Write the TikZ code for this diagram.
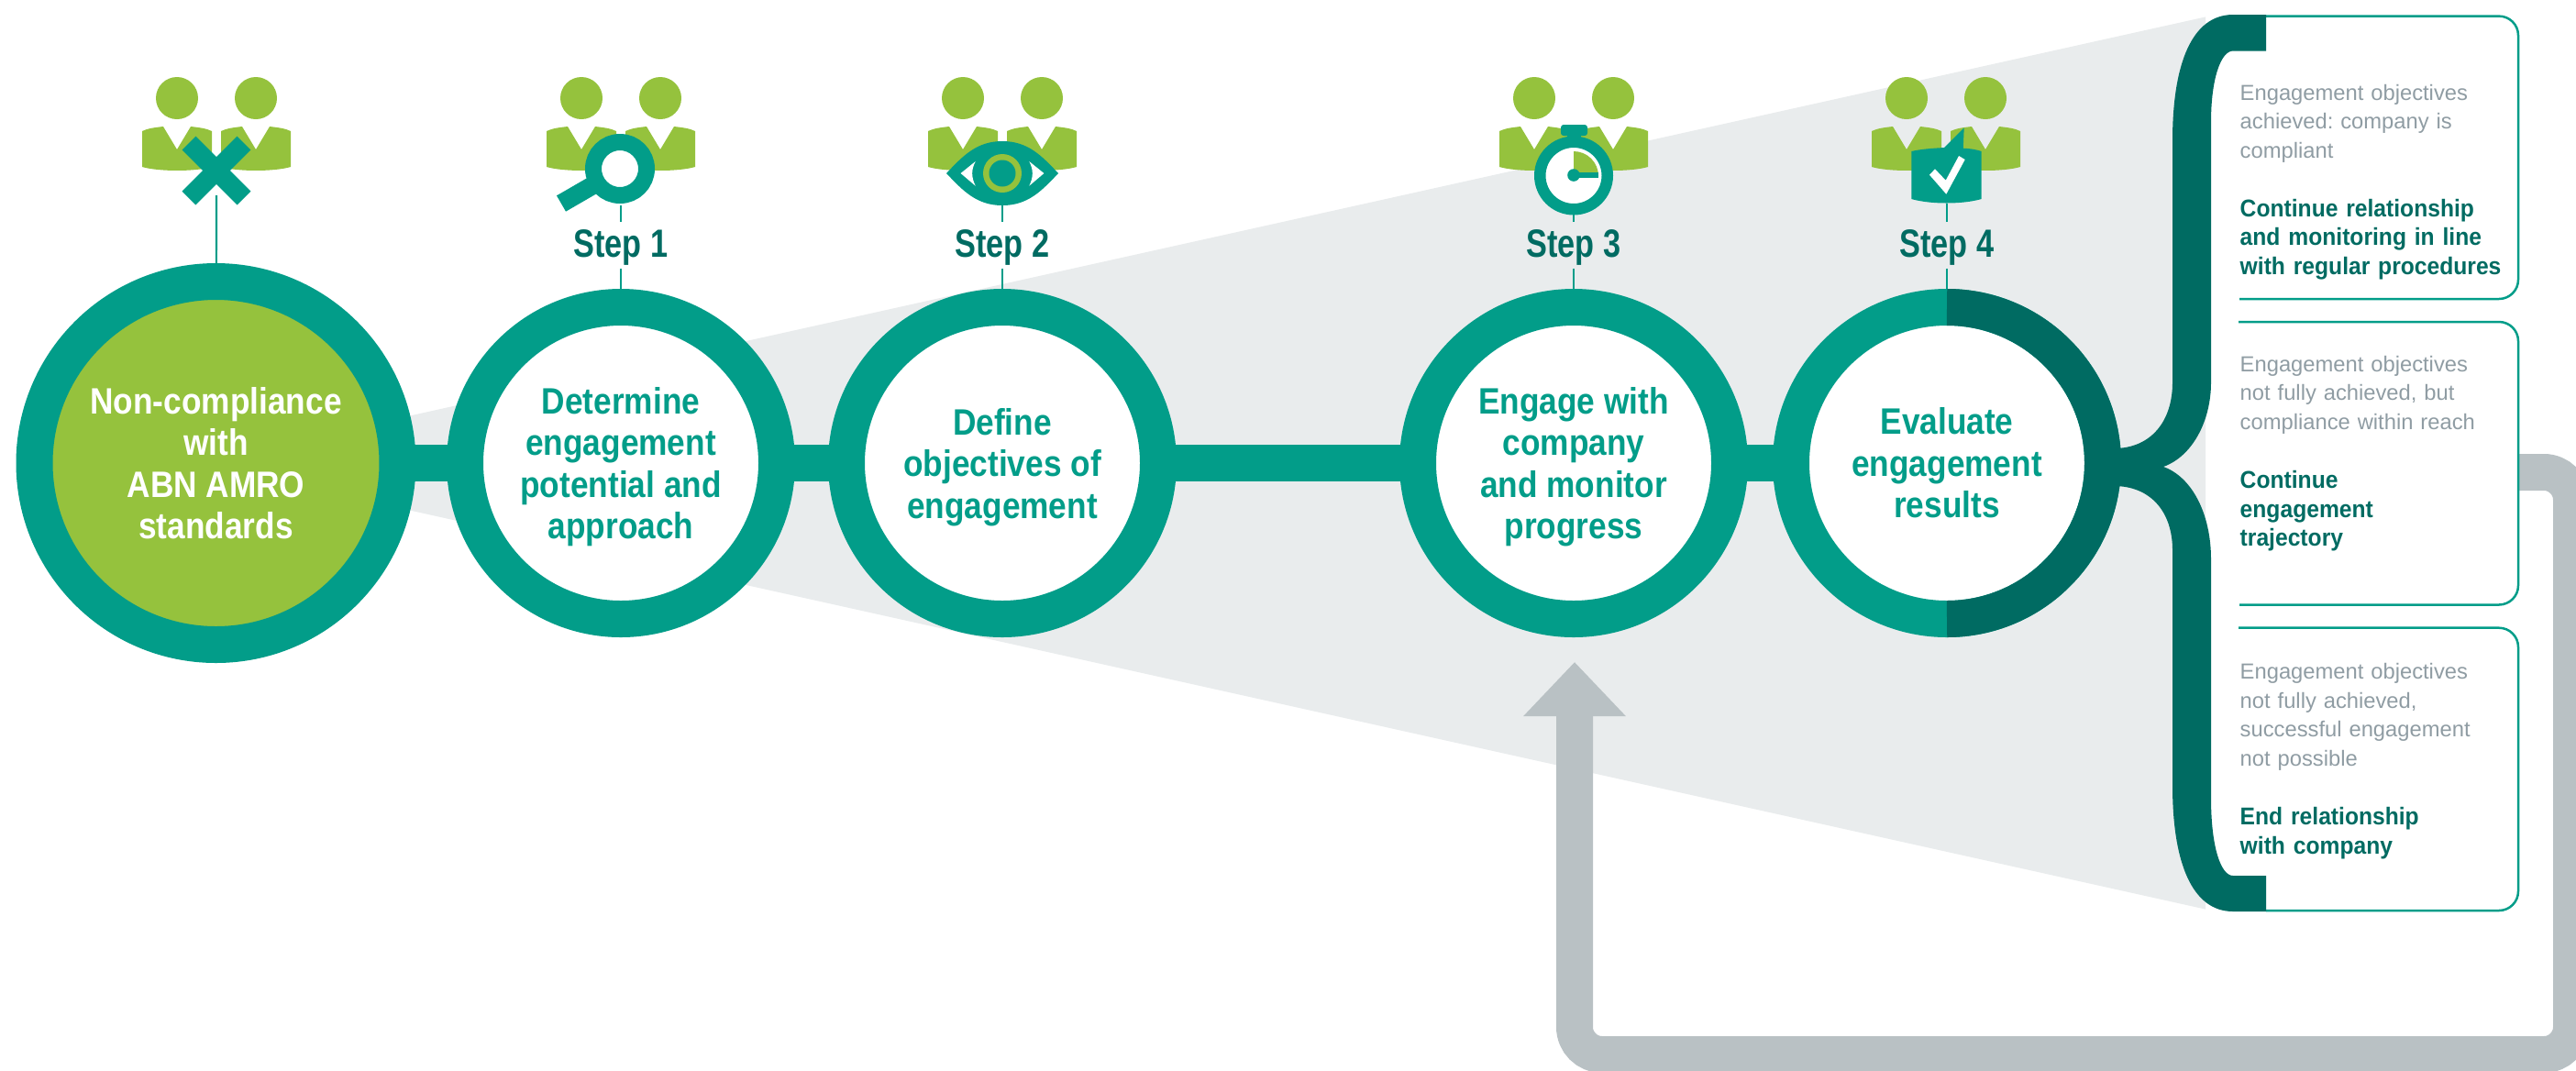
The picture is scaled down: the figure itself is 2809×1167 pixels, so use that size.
\documentclass[tikz,border=0pt]{standalone}
\usepackage{fontspec}
\usetikzlibrary{arrows.meta}
\setmainfont{Liberation Sans}
\newfontfamily\circlefont[FakeStretch=0.88]{Liberation Sans}
\newfontfamily\stepfont[FakeStretch=0.80]{Liberation Sans}
\newfontfamily\sidefont[FakeStretch=0.93]{Liberation Sans}
\newcommand{\topstrut}{\rule{0pt}{0.94em}}
\definecolor{teal}{HTML}{029D89}
\definecolor{deepteal}{HTML}{006B62}
\definecolor{leaf}{HTML}{95C23D}
\definecolor{fan}{HTML}{E9ECED}
\definecolor{loopgrey}{HTML}{B9C1C4}
\definecolor{textgrey}{HTML}{8F9CA3}
\tikzset{
    ringnode/.style={circle, draw=teal, line width=4mm, fill=white, minimum size=34mm, inner sep=0pt,
        text=teal, align=center, font=\circlefont\bfseries\fontsize{11.4}{12.95}\selectfont},
    stepnode/.style={inner sep=0pt, text height=3.7mm, text depth=1.2mm, text=deepteal,
        font=\stepfont\bfseries\fontsize{12.2}{14}\selectfont},
    stem/.style={line width=0.22mm, teal},
    link/.style={line width=4mm, teal, shorten <=-1mm, shorten >=-1mm},
    boxline/.style={line width=0.25mm, teal, rounded corners=2.1mm},
    outcome/.style={anchor=base west, inner sep=0pt, text width=30mm, align=left, text=textgrey,
        font=\frenchspacing\fontsize{6.76}{9.1}\selectfont},
    action/.style={anchor=base west, inner sep=0pt, text width=31mm, align=left, text=deepteal,
        font=\sidefont\bfseries\fontsize{7.54}{9.1}\selectfont},
    people/.pic={
        \foreach \px in {-43,43} {
            \begin{scope}[shift={(\px,0)}]
                \fill[leaf] (0,0) circle (2.3mm);
                \fill[leaf] (-38,36) .. controls (-32,33) and (-24,32) .. (-15,31) -- (0,56) -- (15,31)
                    .. controls (24,32) and (32,33) .. (38,36) -- (38,75)
                    .. controls (20,80.3) and (-20,80.3) .. (-38,75) -- cycle;
            \end{scope}
        }
    }
}
\begin{document}
\begin{tikzpicture}[x=0.1mm, y=-0.1mm]
    \path[use as bounding box, clip] (0,0) rectangle (2809,1167);
    % Fan behind the steps
    \fill[fan] (215,505) -- (2405,18.4) -- (2405,991.6) -- cycle;
    %
    % Way back to step 3
    \coordinate (loopstart) at (2746,515);
    \coordinate (loopend) at (1717,722);
    \draw[line width=4mm, loopgrey, rounded corners=3mm, -{Triangle[length=5.9mm, width=10.8mm]}]
        (loopstart) -| (2804,1150) -| (loopend);
    %
    % Steps
    \node[ringnode, fill=leaf, text=white, minimum size=39.6mm] (c0) at (235.5,505) {Non-compliance\\with\\ABN AMRO\\standards};
    \node[ringnode] (c1) at (677,505) {\topstrut Determine\\engagement\\potential and\\approach};
    \node[ringnode] (c2) at (1093,505) {\topstrut Define\\objectives of\\engagement};
    \node[ringnode] (c3) at (1716,505) {\topstrut Engage with\\company\\and monitor\\progress};
    \node[ringnode] (c4) at (2123,505) {Evaluate\\engagement\\results};
    \draw[link] (c0) -- (c1);
    \draw[link] (c1) -- (c2);
    \draw[link] (c2) -- (c3);
    \draw[link] (c3) -- (c4);
    \draw[line width=4mm, deepteal] (2123,335) arc[start angle=90, end angle=-90, radius=17mm];
    %
    % Step labels
    \node[stepnode] (s1) at (677,267.5) {Step 1};
    \node[stepnode] (s2) at (1093,267.5) {Step 2};
    \node[stepnode] (s3) at (1716,267.5) {Step 3};
    \node[stepnode] (s4) at (2123,267.5) {Step 4};
    %
    % People
    \pic at (236,107) {people};
    \pic at (677,107) {people};
    \pic at (1093,107) {people};
    \pic at (1716,107) {people};
    \pic at (2122,107) {people};
    %
    % Cross
    \draw[line width=2.1mm, teal] (206,156) -- (266,216);
    \draw[line width=2.1mm, teal] (266,156) -- (206,216);
    % Magnifier
    \draw[line width=2mm, teal] (650,200) -- (612,222);
    \draw[line width=1.8mm, teal, fill=white] (676,184) circle (2.9mm);
    % Eye
    \fill[teal] (1032,189) .. controls (1050,170) and (1065,154) .. (1093,154)
        .. controls (1121,154) and (1136,170) .. (1154,189)
        .. controls (1136,208) and (1121,224) .. (1093,224)
        .. controls (1065,224) and (1050,208) .. (1032,189) -- cycle;
    \fill[white] (1047.6,189) -- (1063.7,176) .. controls (1059,185) and (1059,193) .. (1063.7,202.7) -- cycle;
    \fill[white] (1138.4,189) -- (1122.3,176) .. controls (1127,185) and (1127,193) .. (1122.3,202.7) -- cycle;
    \fill[leaf] (1093,189) circle (2.1mm);
    \fill[teal] (1093,189) circle (1.45mm);
    % Stopwatch
    \fill[teal, rounded corners=0.3mm] (1702,136) rectangle (1731,148);
    \fill[teal] (1709,146) rectangle (1724,152);
    \draw[line width=1.25mm, teal, fill=white] (1716,191.5) circle (3.675mm);
    \fill[leaf] (1716,191) -- (1716,165) arc[start angle=90, end angle=0, radius=2.7mm] -- cycle;
    \fill[teal] (1716,191) circle (0.68mm);
    \draw[line width=0.6mm, teal] (1716,191) -- (1743,191);
    % Speech bubble
    \fill[teal] (2084.3,165) .. controls (2095,162.5) and (2108,161.7) .. (2120,161) -- (2141.7,139.3) -- (2140.7,161.7)
        .. controls (2148,162) and (2155,163) .. (2160.7,165) -- (2160.7,217)
        .. controls (2140,223) and (2105,223) .. (2084.3,217) -- cycle;
    \fill[white] (2104,190.7) -- (2110,184.3) -- (2121.7,196.7) -- (2136,170) -- (2142.7,174) -- (2122.3,211.7) -- cycle;
    %
    % Stems
    \coordinate (i0) at (236,213);
    \coordinate (i1) at (677,224);
    \coordinate (i2) at (1093,224);
    \coordinate (i3) at (1716,234);
    \coordinate (i4) at (2123,222);
    \draw[stem] (i0) -- (c0);
    \draw[stem] (i1) -- (s1);
    \draw[stem] (s1) -- (c1);
    \draw[stem] (i2) -- (s2);
    \draw[stem] (s2) -- (c2);
    \draw[stem] (i3) -- (s3);
    \draw[stem] (s3) -- (c3);
    \draw[stem] (i4) -- (s4);
    \draw[stem] (s4) -- (c4);
    %
    % Result boxes
    \draw[boxline] (2471,17.6) -- (2746,17.6) -- (2746,326) -- (2442,326);
    \draw[boxline] (2441,351) -- (2746,351) -- (2746,659.5) -- (2442,659.5);
    \draw[boxline] (2441,684.7) -- (2746,684.7) -- (2746,993) -- (2471,993);
    %
    % Bracket
    \fill[deepteal] (2435,16) .. controls (2390,16) and (2369,70) .. (2369,153) -- (2369,417)
        .. controls (2369,460) and (2345,489) .. (2305,489) -- (2305,530)
        .. controls (2345,530) and (2369,558) .. (2369,600) -- (2369,857)
        .. controls (2369,940) and (2390,994) .. (2435,994) -- (2471,994) -- (2471,955) -- (2435,955)
        .. controls (2422,955) and (2411,925) .. (2411,870) -- (2411,610)
        .. controls (2411,560) and (2390,520) .. (2359,509)
        .. controls (2390,498) and (2411,460) .. (2411,417) -- (2411,133)
        .. controls (2411,85) and (2422,55.5) .. (2435,55.5) -- (2471,55.5) -- (2471,16) -- cycle;
    %
    % Result texts
    \node[outcome] (r1) at (2442,109) {Engagement objectives\\achieved: company is\\compliant};
    \node[action] (a1) at (2442,236) {Continue relationship\\and monitoring in line\\with regular procedures};
    \node[outcome] (r2) at (2442,405) {Engagement objectives\\not fully achieved, but\\compliance within reach};
    \node[action] (a2) at (2442,532) {Continue\\engagement\\trajectory};
    \node[outcome] (r3) at (2442,740) {Engagement objectives\\not fully achieved,\\successful engagement\\not possible};
    \node[action] (a3) at (2442,899.5) {End relationship\\with company};
\end{tikzpicture}
\end{document}
